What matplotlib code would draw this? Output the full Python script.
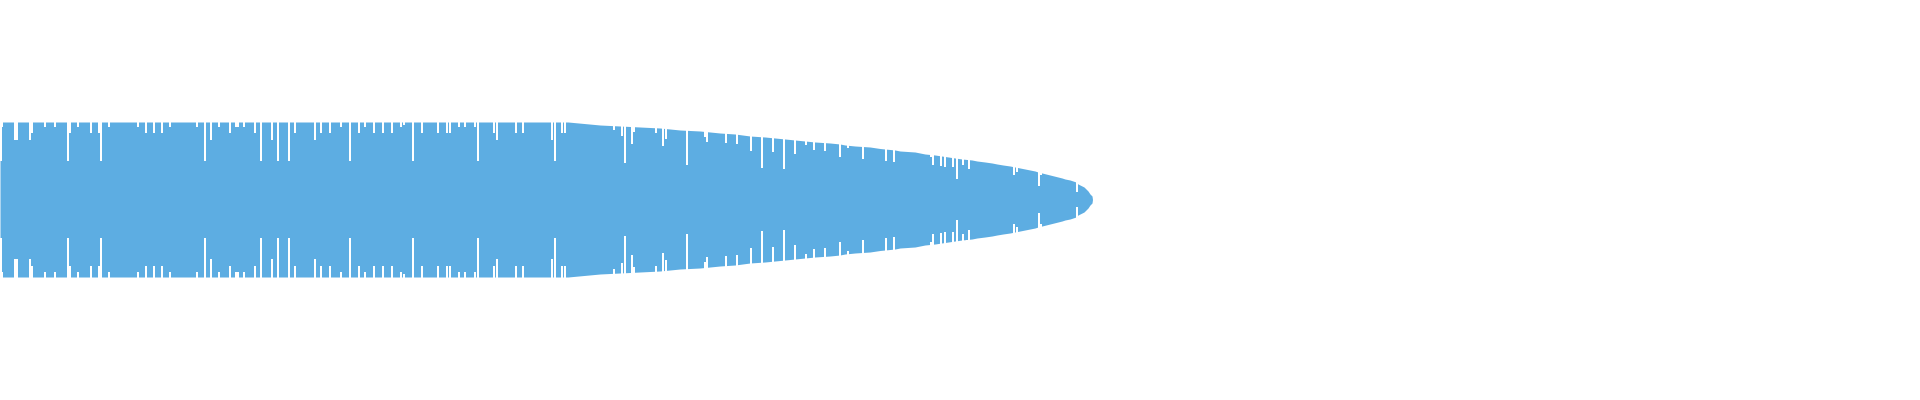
import matplotlib
matplotlib.use("Agg")
import matplotlib.pyplot as plt

# envelope of the waveform (position, amplitude)
env_pos = [0, 568, 584, 600, 620, 640, 660, 680, 700, 710, 720, 735, 750, 765, 775,
           785, 795, 805, 815, 830, 840, 845, 855, 870, 880, 895, 900, 915, 920, 925,
           935, 945, 955, 962, 972, 977, 985, 992, 997, 1003, 1010, 1015, 1020, 1025,
           1030, 1035, 1038, 1042, 1046, 1050, 1054, 1058, 1062, 1065, 1070, 1073,
           1076, 1078, 1080, 1082, 1084, 1086, 1088, 1090, 1092, 1092.5]
env_amp = [77.5, 77.5, 76, 74.5, 73.5, 72.5, 71.5, 69.5, 68.5, 67.5, 66.5, 65.5, 63.5,
           62.5, 61.5, 60.5, 59.5, 58.5, 57.5, 56.5, 55.5, 54.5, 53.5, 52.5, 51, 49.5,
           48.5, 47.5, 46.5, 45.5, 44.5, 43, 41.5, 40.5, 39.5, 38.5, 37.5, 36.5, 35.5,
           34.5, 33.5, 32.5, 31.5, 30.5, 29.5, 28.5, 27.5, 26.5, 25.5, 24.5, 23.5, 22.5,
           21.5, 20.5, 19.5, 18.5, 17.5, 15.5, 14.5, 13.5, 12.5, 10.5, 8.5, 5.5, 3.5, 0]

# samples that fall below the envelope (position, amplitude)
dip_pos = [0, 1, 14, 16, 29, 31, 44, 54, 67, 69, 77, 90, 98, 100, 108, 137, 145, 153,
           161, 169, 196, 204, 210, 218, 229, 235, 237, 243, 254, 260, 271, 277, 288,
           294,
           314, 320, 329, 340, 349, 358, 364, 373, 382, 391, 400, 403, 412, 421, 437,
           446, 449, 458, 464, 474, 477, 493, 496, 515, 522, 551, 554, 561, 564,
           613, 621, 624, 631, 633, 655, 662, 665, 686, 704, 706, 725, 736, 750, 761,
           772, 783, 794, 805, 813, 824, 839, 847, 862, 885, 893,
           930, 932, 940, 944, 952, 956, 962, 966, 968, 1013, 1016, 1038, 1040, 1076]
dip_amp = [38.5, 72.5, 59.5, 59.5, 59.5, 66.5, 72.5, 72.5, 38.5, 66.5, 72.5, 66.5,
           66.5, 38.5, 72.5, 72.5, 66.5, 66.5, 66.5, 72.5, 72.5, 38.5, 59.5, 72.5,
           66.5, 72.5, 72.5, 72.5, 66.5, 38.5, 59.5, 38.5, 38.5, 66.5,
           59.5, 66.5, 66.5, 72.5, 38.5, 66.5, 72.5, 66.5, 66.5, 66.5, 72.5, 74.5,
           38.5, 66.5, 66.5, 66.5, 66.5, 72.5, 72.5, 72.5, 38.5, 66.5, 59.5, 66.5,
           66.5, 59.5, 38.5, 66.5, 66.5,
           69.5, 63.5, 36.5, 55.5, 67.5, 66.5, 53.5, 60.5, 34.5, 62.5, 57.5, 56.5,
           55.5, 48.5, 31.5, 47.5, 30.5, 45.5, 54.5, 49.5, 48.5, 42.5, 51.5, 40.5,
           38.5, 37.5,
           42.5, 34.5, 33.5, 32.5, 32.5, 20.5, 34.5, 40.5, 30.5, 24.5, 27.5, 13.5,
           24.5, 7.5]

blue = "#5dade2"

fig = plt.figure(figsize=(19.2, 4), dpi=100)
ax = fig.add_axes([0, 0, 1, 1])

ax.fill_between(env_pos, [-a for a in env_amp], env_amp, color=blue, linewidth=0)

# cut the dips out of the top and bottom
ax.bar(dip_pos, [200 - a for a in dip_amp], bottom=dip_amp, width=2,
       align="edge", color="white", linewidth=0)
ax.bar(dip_pos, [200 - a for a in dip_amp], bottom=[-200] * len(dip_amp), width=2,
       align="edge", color="white", linewidth=0)

ax.set_xlim(0, 1920)
ax.set_ylim(-200.5, 199.5)
ax.axis("off")

fig.savefig("out.png", dpi=100)
